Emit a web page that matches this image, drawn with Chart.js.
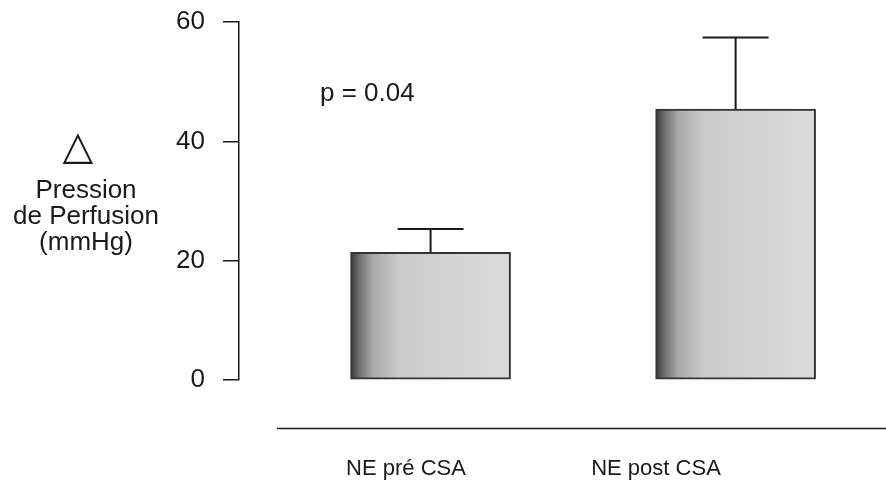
<!DOCTYPE html>
<html>
<head>
<meta charset="utf-8">
<script src="https://cdn.jsdelivr.net/npm/chart.js@4/dist/chart.umd.min.js"></script>
<style>
  html, body { margin: 0; padding: 0; background: #fff; }
  #wrap { position: relative; width: 886px; height: 489px; }
</style>
</head>
<body>
<div id="wrap"><canvas id="chart"></canvas></div>
<script>
// data
const categories = ["NE pré CSA", "NE post CSA"];
const barPos     = [1, 2];
const means      = [21.4, 45.4];
const errs       = [3.9, 12.0];
const yTicks     = [0, 20, 40, 60];
const pLabel     = "p = 0.04";
const yTitle     = ["Pression", "de Perfusion", "(mmHg)"];

const FONT = "'Liberation Sans', Arial, sans-serif";
const INK  = "#1a1a1a";

// dark left edge fading to light grey, like the scanned bars
function barFill(ctx) {
  const c = ctx.chart;
  if (!c.chartArea || !c.scales.x) return "#cfcfcf";
  const xc = c.scales.x.getPixelForValue(barPos[ctx.dataIndex]);
  const g  = c.ctx.createLinearGradient(xc - 80, 0, xc + 80, 0);
  g.addColorStop(0.00, "#363636");
  g.addColorStop(0.05, "#6a6a6a");
  g.addColorStop(0.14, "#a8a8a8");
  g.addColorStop(0.30, "#cacaca");
  g.addColorStop(0.65, "#d4d4d4");
  g.addColorStop(1.00, "#dadada");
  return g;
}

const errorBars = {
  id: "errorBars",
  afterDatasetsDraw(chart) {
    const { ctx, scales: { x, y } } = chart;
    ctx.save();
    ctx.strokeStyle = INK;
    ctx.lineWidth = 2;
    means.forEach((m, i) => {
      const px  = x.getPixelForValue(barPos[i]);
      const top = y.getPixelForValue(m + errs[i]);
      const bot = y.getPixelForValue(m);
      ctx.beginPath();
      ctx.moveTo(px, bot); ctx.lineTo(px, top);
      ctx.moveTo(px - 33, top); ctx.lineTo(px + 33, top);
      ctx.stroke();
    });
    ctx.restore();
  }
};

const extras = {
  id: "extras",
  afterDraw(chart) {
    const { ctx, chartArea } = chart;
    ctx.save();
    // detached baseline under the bars
    ctx.strokeStyle = INK;
    ctx.lineWidth = 1.5;
    ctx.beginPath();
    ctx.moveTo(277, 428.5); ctx.lineTo(chartArea.right, 428.5);
    ctx.stroke();

    ctx.fillStyle = INK;
    ctx.textBaseline = "alphabetic";
    ctx.font = "26px " + FONT;
    ctx.textAlign = "left";
    ctx.fillText(pLabel, 320, 101);

    // y axis title, upright
    ctx.textAlign = "center";
    ctx.font = "40px 'DejaVu Sans', sans-serif";
    ctx.fillText("\u25B3", 78, 159);
    ctx.font = "26px " + FONT;
    yTitle.forEach((t, i) => ctx.fillText(t, 86, 198 + i * 26));
    ctx.restore();
  }
};

new Chart(document.getElementById("chart"), {
  type: "bar",
  data: {
    datasets: [{
      data: means.map((v, i) => ({ x: barPos[i], y: v })),
      backgroundColor: barFill,
      borderColor: "#333",
      borderWidth: 2,
      borderSkipped: false,
      barThickness: 160
    }]
  },
  options: {
    responsive: true,
    maintainAspectRatio: false,
    animation: false,
    layout: { padding: 0 },
    plugins: { legend: { display: false }, tooltip: { enabled: false } },
    scales: {
      x: {
        type: "linear",
        display: false,
        offset: false,
        min: 0.372,
        max: 2.493
      },
      xl: {
        type: "linear",
        axis: "x",
        position: "bottom",
        offset: false,
        min: 0.332,
        max: 2.92,
        afterBuildTicks: s => { s.ticks = barPos.map(v => ({ value: v })); },
        afterFit: s => { s.height = 109; },
        grid: { display: false, drawTicks: false, offset: false },
        border: { display: false },
        ticks: {
          autoSkip: false,
          maxRotation: 0,
          padding: 76,
          color: INK,
          font: { family: FONT, size: 22 },
          callback: v => categories[barPos.indexOf(v)] || ""
        }
      },
      y: {
        min: 0,
        max: 60,
        afterBuildTicks: s => { s.ticks = yTicks.map(v => ({ value: v })); },
        afterFit: s => { s.width = 239; s.paddingTop = 22; s.paddingBottom = 0; },
        grid: { drawOnChartArea: false, drawTicks: true, tickLength: 16, color: INK, lineWidth: 1.5 },
        border: { display: true, color: INK, width: 1.5 },
        ticks: {
          padding: 18,
          color: INK,
          font: { family: FONT, size: 26 }
        }
      }
    }
  },
  plugins: [errorBars, extras]
});
</script>
</body>
</html>
